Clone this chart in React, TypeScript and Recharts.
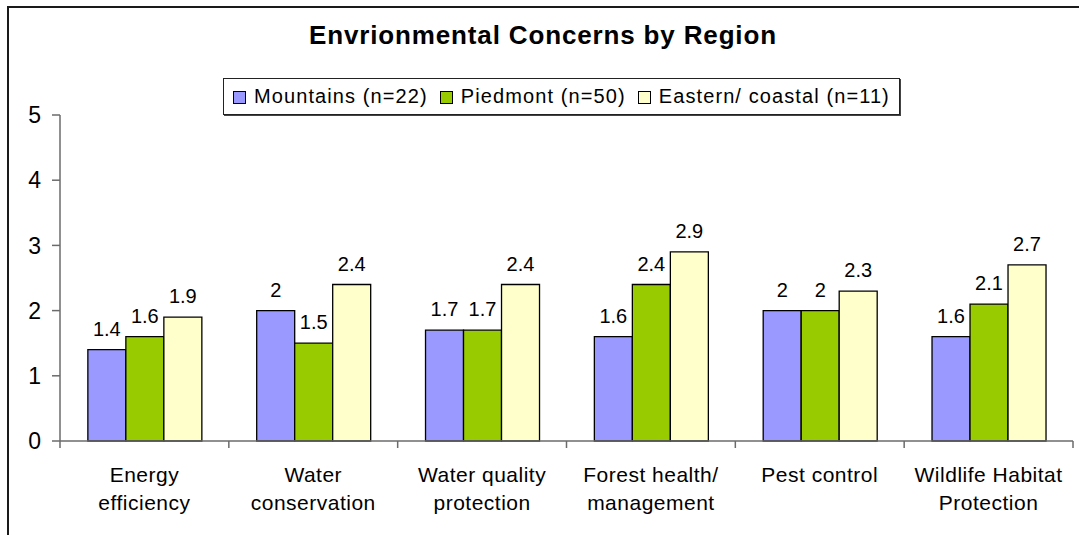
import React from "react";
import { BarChart, Bar, XAxis, YAxis, Legend, LabelList } from "recharts";

const categories = [
  "Energy efficiency",
  "Water conservation",
  "Water quality protection",
  "Forest health/ management",
  "Pest control",
  "Wildlife Habitat Protection",
];
const categoryLines: string[][] = [
  ["Energy", "efficiency"],
  ["Water", "conservation"],
  ["Water quality", "protection"],
  ["Forest health/", "management"],
  ["Pest control"],
  ["Wildlife Habitat", "Protection"],
];
const mountains = [1.4, 2, 1.7, 1.6, 2, 1.6];
const piedmont = [1.6, 1.5, 1.7, 2.4, 2, 2.1];
const eastern = [1.9, 2.4, 2.4, 2.9, 2.3, 2.7];
const seriesNames = ["Mountains (n=22)", "Piedmont (n=50)", "Eastern/ coastal (n=11)"];
const seriesColors = ["#9999FF", "#99CC00", "#FFFFCC"];
const yTicks = [0, 1, 2, 3, 4, 5];
const title = "Envrionmental Concerns by Region";

const data = categories.map((c, i) => ({
  name: c,
  m: mountains[i],
  p: piedmont[i],
  e: eastern[i],
}));

const FONT = "'Liberation Sans', Arial, Helvetica, sans-serif";
const AXIS_COLOR = "#6b6b6b";

const CategoryTick = (props: any) => {
  const { x, y, payload, width, visibleTicksCount, index } = props;
  const half =
    payload && typeof payload.offset === "number" && payload.offset > 0
      ? payload.offset
      : width / visibleTicksCount / 2;
  const idx = payload.index ?? index;
  const lines = categoryLines[idx] || [String(payload.value)];
  const isLast = idx === categories.length - 1;
  return (
    <g>
      <line x1={x - half} y1={y} x2={x - half} y2={y + 7} stroke={AXIS_COLOR} strokeWidth={1.5} />
      {isLast && (
        <line x1={x + half} y1={y} x2={x + half} y2={y + 7} stroke={AXIS_COLOR} strokeWidth={1.5} />
      )}
      {lines.map((l, k) => (
        <text
          key={k}
          x={x}
          y={y + 41 + k * 28}
          textAnchor="middle"
          fontFamily={FONT}
          fontSize={21}
          letterSpacing={0.5}
          fill="#000"
        >
          {l}
        </text>
      ))}
    </g>
  );
};

const LegendContent = (props: any) => {
  const items = [...(props.payload || [])].sort(
    (a: any, b: any) => seriesNames.indexOf(a.value) - seriesNames.indexOf(b.value)
  );
  return (
    <div
      style={{
        display: "inline-flex",
        alignItems: "center",
        border: "1px solid #222",
        boxShadow: "1px 1px 0 #444",
        height: 37,
        paddingLeft: 9,
        paddingRight: 9,
        background: "#fff",
        fontFamily: FONT,
        fontSize: 20,
        letterSpacing: 1.1,
        color: "#000",
        whiteSpace: "nowrap",
        boxSizing: "border-box",
      }}
    >
      {items.map((p: any, i: number) => (
        <div key={i} style={{ display: "flex", alignItems: "center", marginLeft: i === 0 ? 0 : 12 }}>
          <div
            style={{
              width: 11,
              height: 11,
              background: p.color,
              border: "1px solid #000",
              marginRight: 8,
              marginTop: 2,
            }}
          />
          <span>{p.value}</span>
        </div>
      ))}
    </div>
  );
};

export default function App() {
  return (
    <div
      style={{
        position: "absolute",
        left: 0,
        top: 0,
        width: 1079,
        height: 535,
        overflow: "hidden",
        background: "#fff",
      }}
    >
      <div
        style={{
          position: "absolute",
          left: 7,
          top: 6,
          width: 1100,
          height: 600,
          borderLeft: "2px solid #1a1a1a",
          borderTop: "2px solid #1a1a1a",
        }}
      />
      <div
        style={{
          position: "absolute",
          left: 43,
          top: 22,
          width: 1000,
          textAlign: "center",
          fontFamily: FONT,
          fontWeight: "bold",
          fontSize: 26,
          lineHeight: "26px",
          letterSpacing: 0.85,
          color: "#000",
        }}
      >
        {title}
      </div>
      <BarChart
        width={1079}
        height={535}
        data={data}
        margin={{ top: 115, right: 6, left: 0, bottom: 0 }}
        barCategoryGap="16.5%"
        barGap={0}
        style={{ position: "absolute", left: 0, top: 0 }}
      >
        <XAxis
          dataKey="name"
          height={94}
          interval={0}
          tickSize={0}
          tickMargin={0}
          tickLine={false}
          axisLine={{ stroke: AXIS_COLOR, strokeWidth: 1.5 }}
          tick={<CategoryTick />}
        />
        <YAxis
          width={60}
          domain={[0, 5]}
          ticks={yTicks}
          interval={0}
          tickSize={8}
          tickMargin={11}
          axisLine={{ stroke: AXIS_COLOR, strokeWidth: 1.5 }}
          tickLine={{ stroke: AXIS_COLOR, strokeWidth: 1.5 }}
          tick={{ fill: "#000", fontSize: 23, fontFamily: FONT }}
        />
        <Legend
          layout="horizontal"
          verticalAlign="middle"
          align="center"
          wrapperStyle={{ position: "absolute", top: 78, left: 223, width: "auto", height: "auto" }}
          content={<LegendContent />}
        />
        {(["m", "p", "e"] as const).map((k, i) => (
          <Bar
            key={k}
            dataKey={k}
            name={seriesNames[i]}
            fill={seriesColors[i]}
            stroke="#000"
            strokeWidth={1.3}
            isAnimationActive={false}
          >
            <LabelList
              dataKey={k}
              position="top"
              offset={14}
              fill="#000"
              fontSize={20}
              fontFamily={FONT}
            />
          </Bar>
        ))}
      </BarChart>
    </div>
  );
}
